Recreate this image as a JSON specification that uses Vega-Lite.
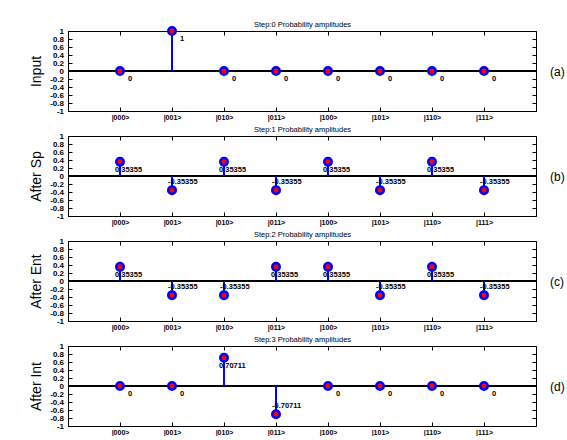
{
  "$schema": "https://vega.github.io/schema/vega-lite/v6.json",
  "background": "white",
  "padding": {"left": 29, "top": 20, "right": 0, "bottom": 0},
  "bounds": "flush",
  "spacing": 25,
  "config": {
    "view": {"stroke": "black", "strokeWidth": 1},
    "font": "Liberation Sans",
    "axis": {
      "grid": false,
      "domainColor": "black",
      "tickColor": "black",
      "labelColor": "black",
      "titleColor": "black",
      "labelFont": "Liberation Sans",
      "titleFont": "Liberation Sans",
      "titleFontWeight": "normal",
      "labelFontWeight": "bold",
      "labelOverlap": false,
      "tickSize": -4
    },
    "text": {"fontSize": 7.5, "fontWeight": "bold", "color": "black", "fill": "black", "align": "left", "baseline": "middle"}
  },
  "data": {
    "values": [
      {"panel": "a", "state": "|000>", "value": 0},
      {"panel": "a", "state": "|001>", "value": 1},
      {"panel": "a", "state": "|010>", "value": 0},
      {"panel": "a", "state": "|011>", "value": 0},
      {"panel": "a", "state": "|100>", "value": 0},
      {"panel": "a", "state": "|101>", "value": 0},
      {"panel": "a", "state": "|110>", "value": 0},
      {"panel": "a", "state": "|111>", "value": 0},
      {"panel": "b", "state": "|000>", "value": 0.35355},
      {"panel": "b", "state": "|001>", "value": -0.35355},
      {"panel": "b", "state": "|010>", "value": 0.35355},
      {"panel": "b", "state": "|011>", "value": -0.35355},
      {"panel": "b", "state": "|100>", "value": 0.35355},
      {"panel": "b", "state": "|101>", "value": -0.35355},
      {"panel": "b", "state": "|110>", "value": 0.35355},
      {"panel": "b", "state": "|111>", "value": -0.35355},
      {"panel": "c", "state": "|000>", "value": 0.35355},
      {"panel": "c", "state": "|001>", "value": -0.35355},
      {"panel": "c", "state": "|010>", "value": -0.35355},
      {"panel": "c", "state": "|011>", "value": 0.35355},
      {"panel": "c", "state": "|100>", "value": 0.35355},
      {"panel": "c", "state": "|101>", "value": -0.35355},
      {"panel": "c", "state": "|110>", "value": 0.35355},
      {"panel": "c", "state": "|111>", "value": -0.35355},
      {"panel": "d", "state": "|000>", "value": 0},
      {"panel": "d", "state": "|001>", "value": 0},
      {"panel": "d", "state": "|010>", "value": 0.70711},
      {"panel": "d", "state": "|011>", "value": -0.70711},
      {"panel": "d", "state": "|100>", "value": 0},
      {"panel": "d", "state": "|101>", "value": 0},
      {"panel": "d", "state": "|110>", "value": 0},
      {"panel": "d", "state": "|111>", "value": 0}
    ]
  },
  "vconcat": [
    {
      "width": 468, "height": 80,
      "transform": [{"filter": "datum.panel == 'a'"}],
      "resolve": {"axis": {"x": "independent", "y": "independent"}},
      "layer": [
        {"mark": {"type": "point", "opacity": 0}, "encoding": {
          "x": {"field": "state", "type": "nominal", "scale": {"type": "point", "padding": 1, "domain": ["|000>", "|001>", "|010>", "|011>", "|100>", "|101>", "|110>", "|111>"]}, "axis": {"orient": "bottom", "labelAngle": 0, "labelFontSize": 7, "labelPadding": 6, "title": null}},
          "y": {"field": "value", "type": "quantitative", "scale": {"domain": [-1, 1]}, "axis": {"orient": "left", "values": [-1, -0.8, -0.6, -0.4, -0.2, 0, 0.2, 0.4, 0.6, 0.8, 1], "labelExpr": "'' + round(datum.value*10)/10", "labelFontSize": 8, "labelPadding": 8.5, "title": "Input", "titleFontSize": 14, "titlePadding": 6}}}},
        {"mark": {"type": "point", "opacity": 0}, "encoding": {
          "x": {"field": "state", "type": "nominal", "axis": {"orient": "top", "labels": false, "domain": false, "title": "Step:0 Probability amplitudes", "titleFontSize": 7.5, "titlePadding": 2}},
          "y": {"field": "value", "type": "quantitative", "axis": {"orient": "right", "labels": false, "domain": false, "values": [-1, -0.8, -0.6, -0.4, -0.2, 0, 0.2, 0.4, 0.6, 0.8, 1], "title": "(a)", "titleAngle": 0, "titleAlign": "left", "titleBaseline": "middle", "titleFontSize": 12, "titlePadding": 13}}}},
        {"mark": {"type": "rule", "color": "black", "strokeWidth": 1}, "encoding": {"y": {"datum": 0, "type": "quantitative", "axis": null}}},
        {"mark": {"type": "rule", "color": "#0000ff", "strokeWidth": 2}, "encoding": {"x": {"field": "state", "type": "nominal", "axis": null}, "y": {"field": "value", "type": "quantitative", "axis": null}, "y2": {"datum": 0}}},
        {"mark": {"type": "point", "shape": "circle", "filled": true, "fill": "#ff0000", "stroke": "#0000ff", "strokeWidth": 2.5, "size": 56, "opacity": 1}, "encoding": {"x": {"field": "state", "type": "nominal", "axis": null}, "y": {"field": "value", "type": "quantitative", "axis": null}}},
        {"transform": [{"filter": "datum.value == 0 || datum.value == 1"}], "mark": {"type": "text", "dx": 8, "dy": 8, "color": "black"}, "encoding": {"x": {"field": "state", "type": "nominal", "axis": null}, "y": {"field": "value", "type": "quantitative", "axis": null}, "text": {"field": "value", "type": "nominal"}}}
      ]
    },
    {
      "width": 468, "height": 80,
      "transform": [{"filter": "datum.panel == 'b'"}],
      "resolve": {"axis": {"x": "independent", "y": "independent"}},
      "layer": [
        {"mark": {"type": "point", "opacity": 0}, "encoding": {
          "x": {"field": "state", "type": "nominal", "scale": {"type": "point", "padding": 1, "domain": ["|000>", "|001>", "|010>", "|011>", "|100>", "|101>", "|110>", "|111>"]}, "axis": {"orient": "bottom", "labelAngle": 0, "labelFontSize": 7, "labelPadding": 6, "title": null}},
          "y": {"field": "value", "type": "quantitative", "scale": {"domain": [-1, 1]}, "axis": {"orient": "left", "values": [-1, -0.8, -0.6, -0.4, -0.2, 0, 0.2, 0.4, 0.6, 0.8, 1], "labelExpr": "'' + round(datum.value*10)/10", "labelFontSize": 8, "labelPadding": 8.5, "title": "After Sp", "titleFontSize": 14, "titlePadding": 6}}}},
        {"mark": {"type": "point", "opacity": 0}, "encoding": {
          "x": {"field": "state", "type": "nominal", "axis": {"orient": "top", "labels": false, "domain": false, "title": "Step:1 Probability amplitudes", "titleFontSize": 7.5, "titlePadding": 2}},
          "y": {"field": "value", "type": "quantitative", "axis": {"orient": "right", "labels": false, "domain": false, "values": [-1, -0.8, -0.6, -0.4, -0.2, 0, 0.2, 0.4, 0.6, 0.8, 1], "title": "(b)", "titleAngle": 0, "titleAlign": "left", "titleBaseline": "middle", "titleFontSize": 12, "titlePadding": 13}}}},
        {"mark": {"type": "rule", "color": "black", "strokeWidth": 1}, "encoding": {"y": {"datum": 0, "type": "quantitative", "axis": null}}},
        {"mark": {"type": "rule", "color": "#0000ff", "strokeWidth": 2}, "encoding": {"x": {"field": "state", "type": "nominal", "axis": null}, "y": {"field": "value", "type": "quantitative", "axis": null}, "y2": {"datum": 0}}},
        {"mark": {"type": "point", "shape": "circle", "filled": true, "fill": "#ff0000", "stroke": "#0000ff", "strokeWidth": 2.5, "size": 56, "opacity": 1}, "encoding": {"x": {"field": "state", "type": "nominal", "axis": null}, "y": {"field": "value", "type": "quantitative", "axis": null}}},
        {"transform": [{"filter": "datum.value > 0"}], "mark": {"type": "text", "dx": -5, "dy": 8, "color": "black"}, "encoding": {"x": {"field": "state", "type": "nominal", "axis": null}, "y": {"field": "value", "type": "quantitative", "axis": null}, "text": {"field": "value", "type": "nominal"}}},
        {"transform": [{"filter": "datum.value < 0"}], "mark": {"type": "text", "dx": -4, "dy": -8, "color": "black"}, "encoding": {"x": {"field": "state", "type": "nominal", "axis": null}, "y": {"field": "value", "type": "quantitative", "axis": null}, "text": {"field": "value", "type": "nominal"}}}
      ]
    },
    {
      "width": 468, "height": 80,
      "transform": [{"filter": "datum.panel == 'c'"}],
      "resolve": {"axis": {"x": "independent", "y": "independent"}},
      "layer": [
        {"mark": {"type": "point", "opacity": 0}, "encoding": {
          "x": {"field": "state", "type": "nominal", "scale": {"type": "point", "padding": 1, "domain": ["|000>", "|001>", "|010>", "|011>", "|100>", "|101>", "|110>", "|111>"]}, "axis": {"orient": "bottom", "labelAngle": 0, "labelFontSize": 7, "labelPadding": 6, "title": null}},
          "y": {"field": "value", "type": "quantitative", "scale": {"domain": [-1, 1]}, "axis": {"orient": "left", "values": [-1, -0.8, -0.6, -0.4, -0.2, 0, 0.2, 0.4, 0.6, 0.8, 1], "labelExpr": "'' + round(datum.value*10)/10", "labelFontSize": 8, "labelPadding": 8.5, "title": "After Ent", "titleFontSize": 14, "titlePadding": 6}}}},
        {"mark": {"type": "point", "opacity": 0}, "encoding": {
          "x": {"field": "state", "type": "nominal", "axis": {"orient": "top", "labels": false, "domain": false, "title": "Step:2 Probability amplitudes", "titleFontSize": 7.5, "titlePadding": 2}},
          "y": {"field": "value", "type": "quantitative", "axis": {"orient": "right", "labels": false, "domain": false, "values": [-1, -0.8, -0.6, -0.4, -0.2, 0, 0.2, 0.4, 0.6, 0.8, 1], "title": "(c)", "titleAngle": 0, "titleAlign": "left", "titleBaseline": "middle", "titleFontSize": 12, "titlePadding": 13}}}},
        {"mark": {"type": "rule", "color": "black", "strokeWidth": 1}, "encoding": {"y": {"datum": 0, "type": "quantitative", "axis": null}}},
        {"mark": {"type": "rule", "color": "#0000ff", "strokeWidth": 2}, "encoding": {"x": {"field": "state", "type": "nominal", "axis": null}, "y": {"field": "value", "type": "quantitative", "axis": null}, "y2": {"datum": 0}}},
        {"mark": {"type": "point", "shape": "circle", "filled": true, "fill": "#ff0000", "stroke": "#0000ff", "strokeWidth": 2.5, "size": 56, "opacity": 1}, "encoding": {"x": {"field": "state", "type": "nominal", "axis": null}, "y": {"field": "value", "type": "quantitative", "axis": null}}},
        {"transform": [{"filter": "datum.value > 0"}], "mark": {"type": "text", "dx": -5, "dy": 8, "color": "black"}, "encoding": {"x": {"field": "state", "type": "nominal", "axis": null}, "y": {"field": "value", "type": "quantitative", "axis": null}, "text": {"field": "value", "type": "nominal"}}},
        {"transform": [{"filter": "datum.value < 0"}], "mark": {"type": "text", "dx": -4, "dy": -8, "color": "black"}, "encoding": {"x": {"field": "state", "type": "nominal", "axis": null}, "y": {"field": "value", "type": "quantitative", "axis": null}, "text": {"field": "value", "type": "nominal"}}}
      ]
    },
    {
      "width": 468, "height": 80,
      "transform": [{"filter": "datum.panel == 'd'"}],
      "resolve": {"axis": {"x": "independent", "y": "independent"}},
      "layer": [
        {"mark": {"type": "point", "opacity": 0}, "encoding": {
          "x": {"field": "state", "type": "nominal", "scale": {"type": "point", "padding": 1, "domain": ["|000>", "|001>", "|010>", "|011>", "|100>", "|101>", "|110>", "|111>"]}, "axis": {"orient": "bottom", "labelAngle": 0, "labelFontSize": 7, "labelPadding": 6, "title": null}},
          "y": {"field": "value", "type": "quantitative", "scale": {"domain": [-1, 1]}, "axis": {"orient": "left", "values": [-1, -0.8, -0.6, -0.4, -0.2, 0, 0.2, 0.4, 0.6, 0.8, 1], "labelExpr": "'' + round(datum.value*10)/10", "labelFontSize": 8, "labelPadding": 8.5, "title": "After Int", "titleFontSize": 14, "titlePadding": 6}}}},
        {"mark": {"type": "point", "opacity": 0}, "encoding": {
          "x": {"field": "state", "type": "nominal", "axis": {"orient": "top", "labels": false, "domain": false, "title": "Step:3 Probability amplitudes", "titleFontSize": 7.5, "titlePadding": 2}},
          "y": {"field": "value", "type": "quantitative", "axis": {"orient": "right", "labels": false, "domain": false, "values": [-1, -0.8, -0.6, -0.4, -0.2, 0, 0.2, 0.4, 0.6, 0.8, 1], "title": "(d)", "titleAngle": 0, "titleAlign": "left", "titleBaseline": "middle", "titleFontSize": 12, "titlePadding": 13}}}},
        {"mark": {"type": "rule", "color": "black", "strokeWidth": 1}, "encoding": {"y": {"datum": 0, "type": "quantitative", "axis": null}}},
        {"mark": {"type": "rule", "color": "#0000ff", "strokeWidth": 2}, "encoding": {"x": {"field": "state", "type": "nominal", "axis": null}, "y": {"field": "value", "type": "quantitative", "axis": null}, "y2": {"datum": 0}}},
        {"mark": {"type": "point", "shape": "circle", "filled": true, "fill": "#ff0000", "stroke": "#0000ff", "strokeWidth": 2.5, "size": 56, "opacity": 1}, "encoding": {"x": {"field": "state", "type": "nominal", "axis": null}, "y": {"field": "value", "type": "quantitative", "axis": null}}},
        {"transform": [{"filter": "datum.value == 0"}], "mark": {"type": "text", "dx": 8, "dy": 8, "color": "black"}, "encoding": {"x": {"field": "state", "type": "nominal", "axis": null}, "y": {"field": "value", "type": "quantitative", "axis": null}, "text": {"field": "value", "type": "nominal"}}},
        {"transform": [{"filter": "datum.value > 0"}], "mark": {"type": "text", "dx": -5, "dy": 8, "color": "black"}, "encoding": {"x": {"field": "state", "type": "nominal", "axis": null}, "y": {"field": "value", "type": "quantitative", "axis": null}, "text": {"field": "value", "type": "nominal"}}},
        {"transform": [{"filter": "datum.value < 0"}], "mark": {"type": "text", "dx": -4, "dy": -8, "color": "black"}, "encoding": {"x": {"field": "state", "type": "nominal", "axis": null}, "y": {"field": "value", "type": "quantitative", "axis": null}, "text": {"field": "value", "type": "nominal"}}}
      ]
    }
  ]
}
